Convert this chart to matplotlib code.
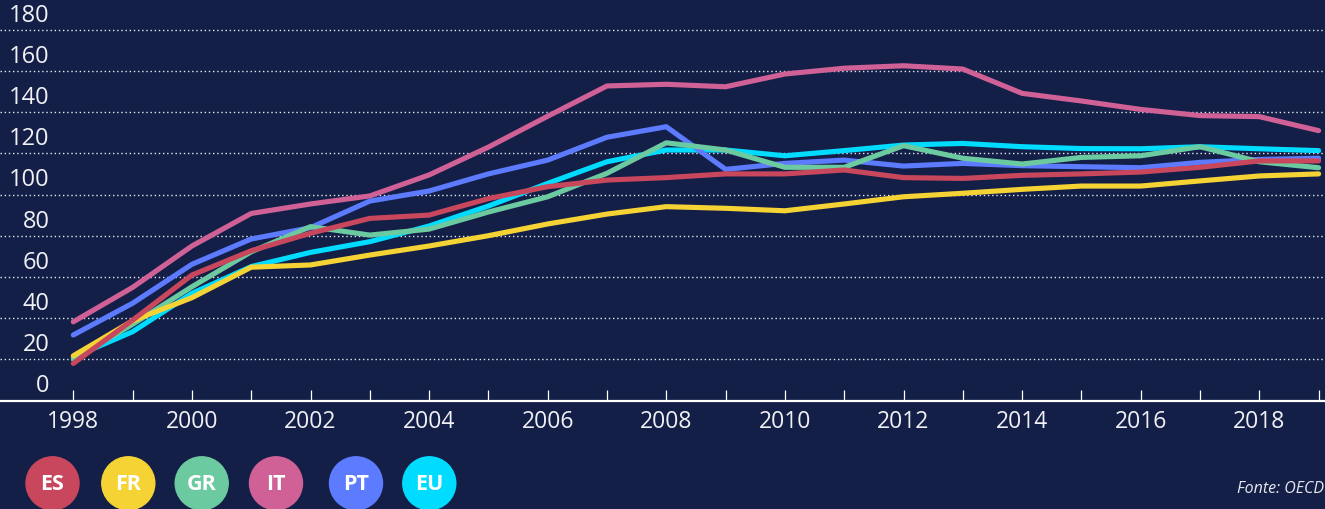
import matplotlib
matplotlib.use("Agg")
import matplotlib.pyplot as plt
from matplotlib.patches import Circle

years = list(range(1998, 2020))
ES = [18, 39, 60.9, 72.7, 81.2, 88.4, 90, 98, 103.8, 107, 108.2, 110, 110, 111.9, 108.2, 107.8, 109.3, 110, 110.9, 113.2, 116.3, 116.3]
FR = [21.7, 38.7, 49.9, 64.7, 65.8, 70.6, 75, 80, 85.7, 90.5, 94.1, 93.3, 92.1, 95.4, 98.9, 100.6, 102.5, 104.1, 104.1, 106.6, 109, 110]
GR = [20, 37, 55.2, 72.2, 84.4, 80.3, 83.2, 91.5, 98.9, 110.3, 125.1, 121.6, 113.2, 113.2, 123.7, 117.6, 114.8, 118, 118.8, 123.2, 115.9, 113]
IT = [38.2, 54.9, 75, 90.8, 95.4, 99.3, 109.5, 123, 138, 152.7, 153.5, 152.3, 158.5, 161.3, 162.5, 160.9, 149.1, 145.4, 141.3, 138.3, 137.8, 131]
PT = [31.8, 47.2, 66.1, 78.4, 83.9, 96.8, 101.7, 110, 116.7, 127.8, 132.9, 112.2, 115.1, 116.7, 113.8, 115.1, 114, 113.5, 113, 115.6, 117, 117.6]
EU = [21, 33.4, 52, 65, 71.9, 77.1, 84.7, 94.4, 105.4, 115.9, 121.6, 121.6, 118.8, 121.3, 124, 124.8, 123.2, 122.3, 122.2, 123.2, 122.2, 121.3]

series_names = ["ES", "FR", "GR", "IT", "PT", "EU"]
series_values = [ES, FR, GR, IT, PT, EU]
colors = ["#c9475c", "#f5d334", "#6ccaa0", "#d06197", "#5c7bff", "#00dcff"]
y_ticks = [0, 20, 40, 60, 80, 100, 120, 140, 160, 180]
x_label_years = list(range(1998, 2020, 2))
source = "Fonte: OECD"

BG = "#141f47"
W, H = 1325, 509
plt.rcParams['font.family'] = ['Open Sans', 'DejaVu Sans']
fig = plt.figure(figsize=(W / 100, H / 100), dpi=100, facecolor=BG)

px_per_year = 59.3
x0 = 73.3
xl = 1998 - x0 / px_per_year
xr = 1998 + (W - x0) / px_per_year
py0 = 400.5
ppu = 2.06
ytop = 185
ax_bottom = (H - py0) / H
ax_top = (H - (py0 - ytop * ppu)) / H
ax = fig.add_axes([0, ax_bottom, 1, ax_top - ax_bottom])
ax.set_facecolor(BG)
ax.set_xlim(xl, xr)
ax.set_ylim(0, ytop)

for s in ax.spines.values():
    s.set_visible(False)
ax.set_xticks([])
ax.set_yticks([])

label_x = 49.5 / W * (xr - xl) + xl
# gridlines and y labels
for v in y_ticks:
    if v > 0:
        ax.axhline(v, color="#e6e8ef", lw=1.0, ls=(0, (1, 2)), zorder=1)
    ax.text(label_x, v + 6.8, str(v), color="#f0f0f5", fontsize=17,
            ha="right", va="center", zorder=5, clip_on=False)

# baseline and ticks
ax.axhline(0, color="white", lw=1.6, zorder=6, clip_on=False)
for yr in years:
    ax.plot([yr, yr], [0, 10.5 / ppu], color="white", lw=0.9, zorder=6, solid_capstyle="butt")
for yr in x_label_years:
    ax.text(yr, -21.5 / ppu, str(yr), color="#f0f0f5", fontsize=16.5,
            ha="center", va="center", clip_on=False)

# lines (reverse order so ES on top)
for name, vals, c in reversed(list(zip(series_names, series_values, colors))):
    ax.plot(years, vals, color=c, lw=3.7, solid_capstyle="round", solid_joinstyle="round", zorder=3)

# legend circles (pixel-coordinate overlay)
lx = [52.5, 128.3, 201.7, 276, 356, 429.3]
ly = 483.3
r = 26.5
lax = fig.add_axes([0, 0, 1, 1], facecolor="none")
lax.set_xlim(0, W)
lax.set_ylim(H, 0)
lax.axis("off")
for name, c, cx in zip(series_names, colors, lx):
    lax.add_patch(Circle((cx, ly), r, color=c, zorder=5))
    lax.text(cx, ly + 1, name, color="white", fontsize=15.5, fontweight="bold",
             ha="center", va="center", zorder=6)
lax.text(1324, 489, source, color="#e6e8ef", fontsize=11.5, fontstyle="italic",
         ha="right", va="center")

fig.savefig("out.png", dpi=100, facecolor=BG)
